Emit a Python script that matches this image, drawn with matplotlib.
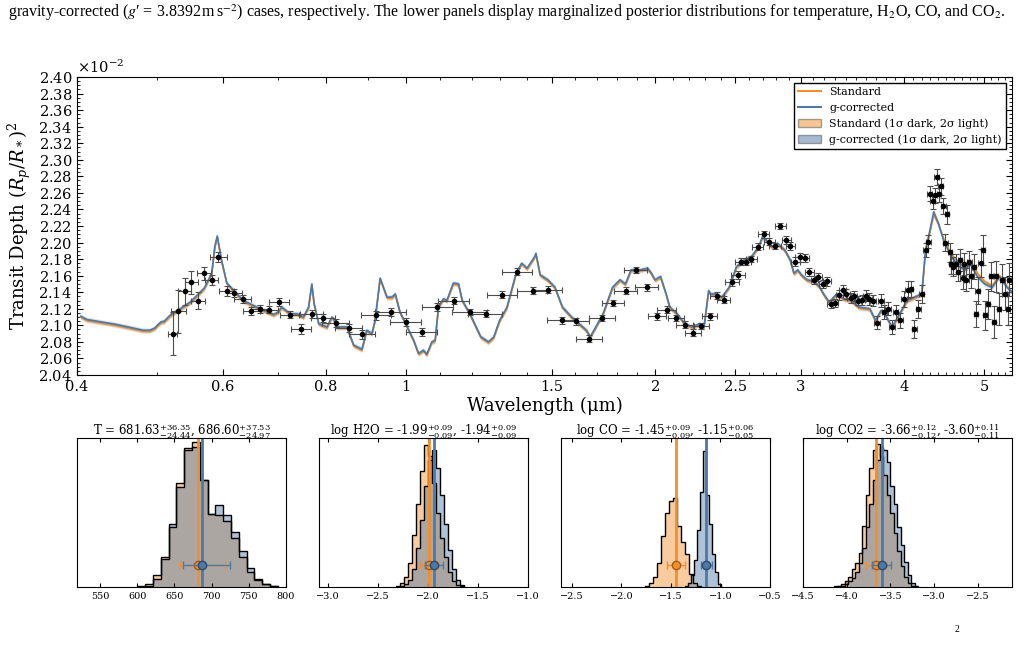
import numpy as np
import matplotlib
matplotlib.use('Agg')
import matplotlib.pyplot as plt
from matplotlib.lines import Line2D
from matplotlib.patches import Patch
from matplotlib.ticker import (FixedLocator, FixedFormatter, MultipleLocator,
                               NullFormatter, NullLocator, ScalarFormatter, AutoMinorLocator)

ORANGE = '#f28e2b'
BLUE = '#4e79a7'

# ---- transmission spectrum (depth in units of 1e-2) ----
wl_model = [0.404, 0.411, 0.446, 0.481, 0.490, 0.497, 0.500, 0.505, 0.510, 0.518,
            0.548, 0.570, 0.582, 0.587, 0.591, 0.598, 0.607, 0.635, 0.666, 0.691,
            0.700, 0.707, 0.724, 0.738, 0.751, 0.762, 0.769, 0.774, 0.784, 0.802,
            0.813, 0.817, 0.824, 0.848, 0.864, 0.884, 0.896, 0.909, 0.917, 0.930,
            0.948, 0.961, 0.970, 0.983, 1.021, 1.035, 1.049, 1.059, 1.074, 1.084,
            1.094, 1.109, 1.120, 1.140, 1.157, 1.169, 1.194, 1.231, 1.257, 1.276,
            1.297, 1.324, 1.358, 1.379, 1.400, 1.430, 1.435, 1.452, 1.483, 1.513,
            1.545, 1.585, 1.618, 1.652, 1.669, 1.695, 1.730, 1.776, 1.813, 1.841,
            1.870, 1.919, 1.958, 1.979, 1.999, 2.030, 2.062, 2.083, 2.126, 2.171,
            2.217, 2.263, 2.291, 2.321, 2.334, 2.370, 2.407, 2.457, 2.508, 2.561,
            2.614, 2.668, 2.696, 2.724, 2.767, 2.810, 2.869, 2.913, 2.943, 2.974,
            3.005, 3.052, 3.115, 3.163, 3.196, 3.246, 3.314, 3.383, 3.453, 3.525,
            3.636, 3.693, 3.750, 3.789, 3.868, 3.950, 4.031, 4.115, 4.201, 4.245,
            4.289, 4.343, 4.401, 4.469, 4.562, 4.657, 4.753, 4.803, 4.903, 5.005,
            5.110, 5.216, 5.325, 5.426]
depth_gc = [2.111, 2.107, 2.101, 2.094, 2.094, 2.097, 2.100, 2.104, 2.105, 2.112,
            2.128, 2.145, 2.163, 2.195, 2.208, 2.179, 2.151, 2.130, 2.120, 2.113,
            2.116, 2.122, 2.114, 2.114, 2.110, 2.122, 2.150, 2.126, 2.102, 2.098,
            2.110, 2.108, 2.098, 2.098, 2.076, 2.071, 2.094, 2.090, 2.106, 2.157,
            2.134, 2.134, 2.138, 2.116, 2.082, 2.066, 2.070, 2.065, 2.080, 2.082,
            2.122, 2.132, 2.130, 2.151, 2.150, 2.130, 2.114, 2.086, 2.080, 2.086,
            2.106, 2.122, 2.163, 2.175, 2.169, 2.183, 2.187, 2.161, 2.155, 2.146,
            2.122, 2.110, 2.102, 2.094, 2.086, 2.098, 2.114, 2.146, 2.155, 2.150,
            2.167, 2.167, 2.169, 2.163, 2.155, 2.159, 2.138, 2.122, 2.114, 2.102,
            2.098, 2.102, 2.098, 2.142, 2.138, 2.138, 2.134, 2.146, 2.171, 2.179,
            2.183, 2.195, 2.207, 2.203, 2.195, 2.199, 2.191, 2.179, 2.163, 2.167,
            2.161, 2.155, 2.153, 2.146, 2.138, 2.128, 2.138, 2.132, 2.130, 2.122,
            2.120, 2.106, 2.118, 2.114, 2.098, 2.114, 2.130, 2.134, 2.138, 2.191,
            2.211, 2.237, 2.223, 2.201, 2.183, 2.171, 2.167, 2.175, 2.159, 2.150,
            2.146, 2.159, 2.146, 2.138]
depth_std = [2.110, 2.106, 2.100, 2.093, 2.093, 2.096, 2.099, 2.103, 2.104, 2.111,
             2.127, 2.144, 2.162, 2.194, 2.207, 2.178, 2.150, 2.129, 2.119, 2.112,
             2.115, 2.121, 2.113, 2.113, 2.109, 2.121, 2.149, 2.125, 2.101, 2.097,
             2.109, 2.107, 2.097, 2.097, 2.075, 2.070, 2.093, 2.089, 2.105, 2.156,
             2.133, 2.133, 2.137, 2.115, 2.081, 2.065, 2.069, 2.064, 2.079, 2.081,
             2.121, 2.131, 2.129, 2.150, 2.149, 2.129, 2.113, 2.085, 2.079, 2.085,
             2.105, 2.121, 2.162, 2.174, 2.168, 2.182, 2.186, 2.160, 2.154, 2.145,
             2.121, 2.109, 2.101, 2.093, 2.085, 2.097, 2.113, 2.145, 2.154, 2.149,
             2.166, 2.166, 2.168, 2.162, 2.154, 2.158, 2.137, 2.121, 2.113, 2.101,
             2.097, 2.101, 2.097, 2.141, 2.137, 2.137, 2.133, 2.145, 2.170, 2.178,
             2.182, 2.194, 2.206, 2.202, 2.194, 2.198, 2.190, 2.178, 2.162, 2.166,
             2.160, 2.154, 2.152, 2.145, 2.137, 2.127, 2.137, 2.131, 2.129, 2.121,
             2.119, 2.105, 2.117, 2.113, 2.097, 2.113, 2.129, 2.133, 2.137, 2.189,
             2.209, 2.234, 2.222, 2.203, 2.186, 2.175, 2.171, 2.179, 2.163, 2.153,
             2.148, 2.160, 2.147, 2.138]
band1 = 0.0015   # 1 sigma half width
band2 = 0.003    # 2 sigma half width

wl_obs = [0.522, 0.530, 0.540, 0.550, 0.560, 0.570, 0.582, 0.593, 0.607, 0.620,
          0.635, 0.650, 0.666, 0.683, 0.702, 0.723, 0.746, 0.769, 0.794, 0.823,
          0.852, 0.885, 0.920, 0.959, 1.000, 1.045, 1.091, 1.141, 1.194, 1.248,
          1.306, 1.362, 1.422, 1.483, 1.545, 1.603, 1.664, 1.725, 1.780, 1.842,
          1.895, 1.954, 2.010, 2.066, 2.120, 2.171, 2.223, 2.275, 2.327, 2.376,
          2.420, 2.476, 2.520, 2.538, 2.573, 2.614, 2.660, 2.705, 2.748, 2.792,
          2.834, 2.879, 2.914, 2.952, 2.990, 3.035, 3.073, 3.114, 3.146, 3.188,
          3.229, 3.262, 3.296, 3.340, 3.371, 3.406, 3.445, 3.481, 3.518, 3.555,
          3.592, 3.630, 3.669, 3.708, 3.747, 3.786, 3.826, 3.866, 3.907, 3.957,
          3.998, 4.040, 4.073, 4.115, 4.159, 4.198, 4.245, 4.275, 4.298, 4.329,
          4.354, 4.377, 4.407, 4.430, 4.461, 4.483, 4.506, 4.543, 4.556, 4.588,
          4.621, 4.649, 4.673, 4.707, 4.731, 4.756, 4.796, 4.821, 4.856, 4.882,
          4.907, 4.948, 4.979, 5.010, 5.047, 5.089, 5.132, 5.170, 5.207, 5.249,
          5.289, 5.334, 5.361]
depth_obs = [2.090, 2.117, 2.141, 2.152, 2.130, 2.163, 2.155, 2.182, 2.141, 2.139,
             2.132, 2.117, 2.120, 2.119, 2.128, 2.113, 2.096, 2.114, 2.109, 2.103,
             2.097, 2.089, 2.112, 2.116, 2.104, 2.092, 2.122, 2.130, 2.116, 2.114,
             2.137, 2.165, 2.142, 2.143, 2.106, 2.105, 2.084, 2.109, 2.127, 2.142,
             2.167, 2.146, 2.111, 2.119, 2.109, 2.101, 2.091, 2.099, 2.111, 2.136,
             2.131, 2.152, 2.161, 2.177, 2.177, 2.180, 2.195, 2.210, 2.201, 2.196,
             2.220, 2.203, 2.196, 2.177, 2.182, 2.181, 2.164, 2.155, 2.158, 2.150,
             2.153, 2.126, 2.127, 2.137, 2.143, 2.138, 2.133, 2.136, 2.130, 2.131,
             2.136, 2.132, 2.130, 2.103, 2.130, 2.116, 2.120, 2.098, 2.116, 2.106,
             2.132, 2.143, 2.144, 2.096, 2.120, 2.138, 2.191, 2.201, 2.259, 2.250,
             2.257, 2.279, 2.259, 2.268, 2.244, 2.200, 2.234, 2.188, 2.174, 2.171,
             2.174, 2.165, 2.179, 2.157, 2.174, 2.155, 2.176, 2.159, 2.171, 2.114,
             2.142, 2.175, 2.191, 2.112, 2.126, 2.159, 2.104, 2.159, 2.120, 2.155,
             2.138, 2.120, 2.155]
wl_err = [0.007, 0.011, 0.010, 0.010, 0.011, 0.011, 0.011, 0.014, 0.013, 0.013,
          0.015, 0.015, 0.016, 0.016, 0.020, 0.020, 0.021, 0.025, 0.026, 0.031,
          0.032, 0.033, 0.039, 0.041, 0.043, 0.045, 0.047, 0.049, 0.057, 0.059,
          0.055, 0.057, 0.060, 0.062, 0.065, 0.059, 0.061, 0.063, 0.055, 0.057,
          0.059, 0.061, 0.052, 0.054, 0.049, 0.050, 0.051, 0.048, 0.049, 0.045,
          0.045, 0.047, 0.047, 0.040, 0.040, 0.041, 0.042, 0.042, 0.043, 0.044,
          0.044, 0.036, 0.036, 0.037, 0.037, 0.038, 0.038, 0.032, 0.033, 0.033,
          0.034, 0.034, 0.034, 0.035, 0.035, 0.035, 0.030, 0.030, 0.030, 0.030,
          0.030, 0.030, 0.030, 0.030, 0.030, 0.030, 0.030, 0.030, 0.030, 0.030,
          0.030, 0.030, 0.030, 0.030, 0.030, 0.030, 0.030, 0.030, 0.030, 0.030,
          0.030, 0.030, 0.030, 0.030, 0.030, 0.030, 0.030, 0.030, 0.030, 0.030,
          0.030, 0.030, 0.030, 0.030, 0.030, 0.030, 0.030, 0.030, 0.030, 0.030,
          0.030, 0.030, 0.030, 0.030, 0.030, 0.030, 0.030, 0.030, 0.030, 0.030,
          0.030, 0.030, 0.030]
depth_err = [0.026, 0.026, 0.016, 0.014, 0.010, 0.008, 0.006, 0.006, 0.006, 0.005,
             0.005, 0.005, 0.005, 0.004, 0.005, 0.004, 0.006, 0.005, 0.005, 0.005,
             0.005, 0.005, 0.005, 0.005, 0.005, 0.005, 0.005, 0.004, 0.004, 0.004,
             0.004, 0.004, 0.004, 0.004, 0.004, 0.004, 0.004, 0.004, 0.004, 0.004,
             0.004, 0.004, 0.004, 0.004, 0.004, 0.004, 0.004, 0.004, 0.004, 0.004,
             0.004, 0.004, 0.005, 0.004, 0.004, 0.004, 0.004, 0.004, 0.004, 0.004,
             0.004, 0.005, 0.005, 0.005, 0.005, 0.005, 0.005, 0.005, 0.005, 0.005,
             0.005, 0.005, 0.005, 0.006, 0.006, 0.006, 0.006, 0.006, 0.006, 0.006,
             0.007, 0.007, 0.007, 0.008, 0.008, 0.008, 0.008, 0.009, 0.009, 0.009,
             0.010, 0.010, 0.010, 0.011, 0.011, 0.011, 0.008, 0.008, 0.009, 0.009,
             0.009, 0.010, 0.010, 0.010, 0.010, 0.010, 0.011, 0.011, 0.012, 0.012,
             0.012, 0.012, 0.013, 0.013, 0.013, 0.014, 0.014, 0.014, 0.015, 0.016,
             0.016, 0.017, 0.018, 0.018, 0.018, 0.018, 0.019, 0.019, 0.019, 0.019,
             0.020, 0.020, 0.020]

xticks = [0.4, 0.6, 0.8, 1, 1.5, 2, 2.5, 3, 4, 5]
xticklabels = ['0.4', '0.6', '0.8', '1', '1.5', '2', '2.5', '3', '4', '5']

# ---- posteriors: median, +err, -err ----
post_names = ['T', 'log H2O', 'log CO', 'log CO2']
std_med = [681.63, -1.99, -1.45, -3.66]
std_up = [36.35, 0.09, 0.09, 0.12]
std_lo = [24.44, 0.09, 0.09, 0.12]
gc_med = [686.60, -1.94, -1.15, -3.60]
gc_up = [37.53, 0.09, 0.06, 0.11]
gc_lo = [24.97, 0.09, 0.05, 0.11]

# histogram bins (start, width) and normalised heights
T_std_bins = (600, 10.5)
T_std = [0.005, 0.02, 0.08, 0.20, 0.40, 0.70, 0.93, 0.97, 0.72, 0.49, 0.48, 0.44,
         0.33, 0.20, 0.10, 0.05, 0.02, 0.01]
T_gc_bins = (600, 10.5)
T_gc = [0.0, 0.01, 0.055, 0.19, 0.42, 0.67, 0.92, 0.94, 0.72, 0.49, 0.55, 0.48,
        0.37, 0.24, 0.13, 0.055, 0.02, 0.005]
h2o_std_bins = (-2.32, 0.04)
h2o_std = [0.01, 0.03, 0.07, 0.16, 0.35, 0.56, 0.78, 0.95, 0.88, 0.70, 0.50, 0.33,
           0.20, 0.10, 0.04, 0.015, 0.005]
h2o_gc_bins = (-2.32, 0.04)
h2o_gc = [0.0, 0.01, 0.02, 0.05, 0.12, 0.26, 0.45, 0.68, 0.85, 0.92, 0.80, 0.62,
          0.42, 0.25, 0.12, 0.05, 0.015]
co_std_bins = (-1.76, 0.04)
co_std = [0.01, 0.03, 0.07, 0.16, 0.34, 0.50, 0.58, 0.60, 0.41, 0.30, 0.22, 0.09,
          0.03, 0.01]
co_gc_bins = (-1.355, 0.03)
co_gc = [0.01, 0.03, 0.08, 0.18, 0.38, 0.64, 0.91, 0.62, 0.42, 0.22, 0.10, 0.02]
co2_std_bins = (-4.14, 0.04)
co2_std = [0.005, 0.01, 0.02, 0.04, 0.07, 0.12, 0.16, 0.23, 0.41, 0.62, 0.80, 0.92,
           0.96, 0.88, 0.75, 0.62, 0.50, 0.36, 0.24, 0.14, 0.07, 0.03, 0.01]
co2_gc_bins = (-4.10, 0.04)
co2_gc = [0.005, 0.01, 0.02, 0.04, 0.06, 0.10, 0.16, 0.26, 0.40, 0.56, 0.72, 0.85,
          0.94, 0.92, 0.84, 0.68, 0.56, 0.40, 0.28, 0.17, 0.08, 0.03, 0.01]

panel_xlim = [(519, 800), (-3.09, -1.0), (-2.61, -0.5), (-4.5, -2.11)]
panel_ticks = [[550, 600, 650, 700, 750, 800], [-3.0, -2.5, -2.0, -1.5, -1.0],
               [-2.5, -2.0, -1.5, -1.0, -0.5], [-4.5, -4.0, -3.5, -3.0, -2.5]]

plt.rcParams['font.family'] = 'DejaVu Serif'
plt.rcParams['mathtext.fontset'] = 'dejavuserif'

fig = plt.figure(figsize=(10.19, 6.46), dpi=100)

caption = (r"gravity-corrected ($g$′ = 3.8392$\,$m$\,$s$^{-2}$) cases, respectively. "
           r"The lower panels display marginalized posterior distributions for "
           r"temperature, H$_2$O, CO, and CO$_2$.")
fig.text(0.008, 0.981, caption, fontsize=11.5, family='Liberation Serif',
         math_fontfamily='stix', va='center', ha='left')
fig.text(0.937, 0.021, '2', fontsize=7, family='Liberation Serif')

# ---- main spectrum panel ----
ax = fig.add_axes([0.0756, 0.4195, 0.9175, 0.4613])
scale = 1e-2
for depth, color in [(depth_std, ORANGE), (depth_gc, BLUE)]:
    d = np.array(depth) * scale
    ax.fill_between(wl_model, d - band2 * scale, d + band2 * scale, color=color, alpha=0.2, lw=0)
    ax.fill_between(wl_model, d - band1 * scale, d + band1 * scale, color=color, alpha=0.4, lw=0)
ax.plot(wl_model, np.array(depth_std) * scale, color=ORANGE, lw=1.2)
ax.plot(wl_model, np.array(depth_gc) * scale, color=BLUE, lw=1.2)
ax.errorbar(wl_obs, np.array(depth_obs) * scale, xerr=wl_err,
            yerr=np.array(depth_err) * scale, fmt='o', ms=3, color='k',
            ecolor='0.3', elinewidth=0.8, capsize=2, capthick=0.8, zorder=5)

ax.set_xscale('log')
ax.set_xlim(0.4, 5.4)
ax.xaxis.set_major_locator(FixedLocator(xticks))
ax.xaxis.set_major_formatter(FixedFormatter(xticklabels))
ax.xaxis.set_minor_locator(MultipleLocator(0.1))
ax.xaxis.set_minor_formatter(NullFormatter())
ax.set_ylim(0.0204, 0.0240)
ax.yaxis.set_major_locator(MultipleLocator(0.0002))
fmt = ScalarFormatter(useMathText=True, useOffset=False)
fmt.set_powerlimits((-1, 1))
ax.yaxis.set_major_formatter(fmt)
ax.yaxis.set_minor_locator(AutoMinorLocator(4))
ax.tick_params(which='both', direction='in', top=True, right=True, labelsize=10.5)
ax.tick_params(which='major', length=4)
ax.tick_params(which='minor', length=2)
ax.yaxis.get_offset_text().set_fontsize(10.5)
ax.set_xlabel('Wavelength (μm)', fontsize=13, labelpad=2)
ax.set_ylabel(r'Transit Depth $(R_p/R_*)^2$', fontsize=13)

handles = [Line2D([], [], color=ORANGE, lw=1.5), Line2D([], [], color=BLUE, lw=1.5),
           Patch(facecolor=ORANGE, alpha=0.5, edgecolor='0.3'),
           Patch(facecolor=BLUE, alpha=0.5, edgecolor='0.3')]
labels = ['Standard', 'g-corrected', 'Standard (1σ dark, 2σ light)',
          'g-corrected (1σ dark, 2σ light)']
ax.legend(handles, labels, loc='upper right', fontsize=8, fancybox=False,
          edgecolor='k', framealpha=1)

# ---- posterior panels ----
hists = [(T_std_bins, T_std, T_gc_bins, T_gc), (h2o_std_bins, h2o_std, h2o_gc_bins, h2o_gc),
         (co_std_bins, co_std, co_gc_bins, co_gc), (co2_std_bins, co2_std, co2_gc_bins, co2_gc)]
lefts = [0.0756, 0.3131, 0.5505, 0.7880]
for i in range(4):
    pax = fig.add_axes([lefts[i], 0.0913, 0.2051, 0.2307])
    sb, sh, gb, gh = hists[i]
    s_edges = sb[0] + sb[1] * np.arange(len(sh) + 1)
    g_edges = gb[0] + gb[1] * np.arange(len(gh) + 1)
    pax.stairs(sh, s_edges, fill=True, color=ORANGE, alpha=0.45, lw=0)
    pax.stairs(gh, g_edges, fill=True, color=BLUE, alpha=0.45, lw=0)
    pax.stairs(sh, s_edges, color='k', lw=1.0)
    pax.stairs(gh, g_edges, color='k', lw=1.0)
    pax.axvline(std_med[i], color=ORANGE, lw=2)
    pax.axvline(gc_med[i], color=BLUE, lw=2)
    pax.errorbar(std_med[i], 0.15, xerr=[[std_lo[i]], [std_up[i]]], fmt='o', ms=6,
                 color=ORANGE, mec='#a85a16', elinewidth=1, capsize=3, zorder=6)
    pax.errorbar(gc_med[i], 0.15, xerr=[[gc_lo[i]], [gc_up[i]]], fmt='o', ms=6,
                 color=BLUE, mec='#2c4a6e', elinewidth=1, capsize=3, zorder=7)
    pax.set_xlim(panel_xlim[i])
    pax.set_ylim(0, 1.0)
    pax.set_xticks(panel_ticks[i])
    pax.yaxis.set_major_locator(NullLocator())
    pax.tick_params(axis='x', direction='in', top=True, labelsize=7, length=3)
    title = (f"{post_names[i]} = {std_med[i]:.2f}$^{{+{std_up[i]:.2f}}}_{{-{std_lo[i]:.2f}}}$, "
             f"{gc_med[i]:.2f}$^{{+{gc_up[i]:.2f}}}_{{-{gc_lo[i]:.2f}}}$")
    pax.set_title(title, fontsize=8.5, pad=2)

fig.savefig('out.png', dpi=100)
